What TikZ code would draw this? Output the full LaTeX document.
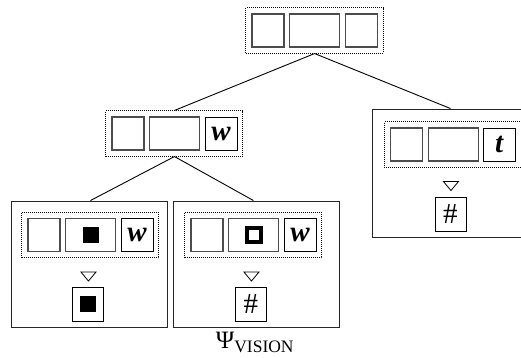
\documentclass[tikz,border=0pt]{standalone}
\usepackage{fontspec}
\setmainfont{Liberation Serif}
\usetikzlibrary{positioning,fit,calc}

\tikzset{
  cell/.style={draw=black!70,line width=1.1pt,minimum width=32pt,minimum height=33pt,inner sep=0pt,font=\fontsize{29}{32}\selectfont},
  widecell/.style={cell,minimum width=50pt},
  symcell/.style={cell,draw=black,line width=0.8pt},
  group/.style={draw,dash pattern=on 1pt off 1pt,line width=1pt,inner sep=5.5pt},
  frame/.style={draw=black!85,line width=0.9pt},
  result/.style={symcell,minimum width=31pt,minimum height=34pt},
  blob/.style={fill=black,minimum size=16pt,inner sep=0pt},
  ring/.style={draw,line width=3.8pt,minimum size=14pt,inner sep=0pt},
  tri/.style={draw,line width=0.8pt},
  branch/.style={line width=0.9pt}
}

\begin{document}
\begin{tikzpicture}[x=1pt,y=1pt]
  \useasboundingbox (0,0) rectangle (521,358);
  \clip (0,0) rectangle (521,358);

  \node[cell] (ra) at (268,327.5) {};
  \node[widecell,right=4.5pt of ra] (rb) {};
  \node[cell,right=4.5pt of rb] (rc) {};
  \node[group,fit=(ra)(rc)] (rootrow) {};

  \node[cell] (wa) at (128,224.5) {};
  \node[widecell,right=4.5pt of wa] (wb) {};
  \node[symcell,right=4.5pt of wb] (wc) {\textbf{\textit{w}}};
  \node[group,fit=(wa)(wc)] (wrow) {};

  \node[frame,minimum width=156pt,minimum height=126pt] (sqbox) at (89,94) {};
  \node[cell] (sa) at (44,123) {};
  \node[widecell,right=4.5pt of sa] (sb) {};
  \node[blob] (sbfill) at (sb) {};
  \node[symcell,right=4.5pt of sb] (sc) {\textbf{\textit{w}}};
  \node[group,fit=(sa)(sc)] (sqrow) {};
  \draw[tri] ($(sqrow.south)+(-9.5,-14)$) -- ++(15,0) -- ++(-7.5,-9) -- cycle;
  \node[result,below=29pt of sqrow,xshift=-2.5pt] (sqres) {};
  \node[blob] (sqresfill) at (sqres) {};

  \node[frame,minimum width=166pt,minimum height=126pt] (ringbox) at (256,94) {};
  \node[cell] (ga) at (207,123) {};
  \node[widecell,right=4.5pt of ga] (gb) {};
  \node[ring] (gbring) at (gb) {};
  \node[symcell,right=4.5pt of gb] (gc) {\textbf{\textit{w}}};
  \node[group,fit=(ga)(gc)] (ringrow) {};
  \draw[tri] ($(ringrow.south)+(-9.5,-14)$) -- ++(15,0) -- ++(-7.5,-9) -- cycle;
  \node[result,below=29pt of ringrow,xshift=-2.5pt] (ringres) {\#};
  \node[font=\fontsize{25}{28}\selectfont] (psi) at (255,15.5) {Ψ\textsubscript{VISION}};

  \node[frame,minimum width=157pt,minimum height=128pt] (tbox) at (450.5,185) {};
  \node[cell] (ta) at (406.5,213.5) {};
  \node[widecell,right=4.5pt of ta] (tb) {};
  \node[symcell,right=4.5pt of tb] (tc) {\textbf{\textit{t}}};
  \node[group,fit=(ta)(tc)] (trow) {};
  \draw[tri] ($(trow.south)+(-9.5,-14)$) -- ++(15,0) -- ++(-7.5,-9) -- cycle;
  \node[result,below=29pt of trow,xshift=-2.5pt] (tres) {\#};

  \draw[branch] (rootrow.south) -- (wrow.north);
  \draw[branch] (rootrow.south) -- (tbox.north);
  \draw[branch] (wrow.south) -- (sqbox.north -| sqrow);
  \draw[branch] (wrow.south) -- (ringbox.north -| ringrow);
\end{tikzpicture}
\end{document}
